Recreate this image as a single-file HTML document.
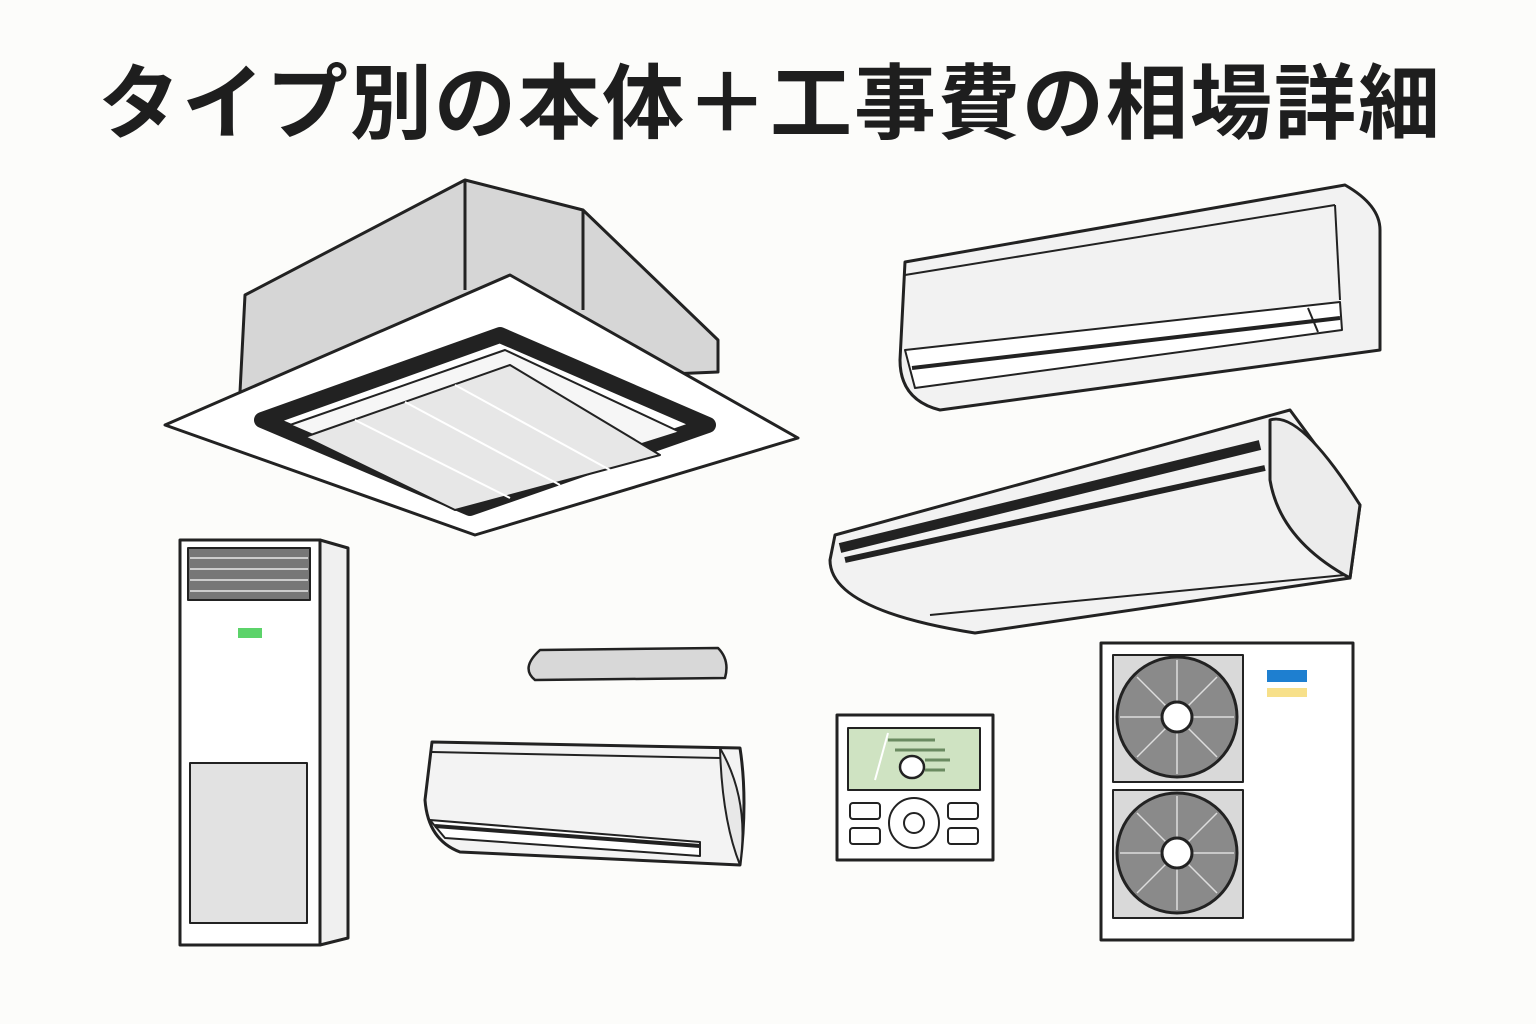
<!DOCTYPE html>
<html><head><meta charset="utf-8"><style>
html,body{margin:0;padding:0;background:#fcfcfa;}
svg{display:block}
</style></head><body>
<svg width="1536" height="1024" viewBox="0 0 1536 1024" xmlns="http://www.w3.org/2000/svg">
<rect width="1536" height="1024" fill="#fcfcfa"/>
<text x="770" y="132" text-anchor="middle" font-family="'Liberation Sans','Noto Sans CJK JP',sans-serif" font-weight="bold" font-size="82" fill="#1e1e1e" letter-spacing="2">タイプ別の本体＋工事費の相場詳細</text>

<g stroke="#222" stroke-width="3" stroke-linejoin="round">
<!-- cassette -->
<polygon points="245,295 465,180 583,210 718,340 718,372 240,392" fill="#d6d6d6"/>
<line x1="465" y1="180" x2="465" y2="290"/>
<line x1="583" y1="210" x2="583" y2="310"/>
<polygon points="165,425 510,275 798,438 475,535" fill="#fff"/>
<polygon points="262,420 500,335 708,425 470,508" fill="#fff" stroke="#222" stroke-width="16"/>
<polygon points="290,425 505,350 680,432 465,500" fill="#f6f6f6" stroke-width="2"/>
<polygon points="305,437 510,365 660,455 455,510" fill="#e7e7e7" stroke-width="2"/>
<g stroke="#fff" stroke-width="2"><line x1="355" y1="420" x2="510" y2="498"/><line x1="405" y1="402" x2="560" y2="485"/><line x1="455" y1="385" x2="610" y2="470"/></g>

<!-- wall unit top right -->
<path d="M905,262 L1345,185 Q1380,205 1380,230 L1380,350 L940,410 Q900,400 900,360 Z" fill="#f2f2f2"/>
<line x1="905" y1="275" x2="1335" y2="205" stroke-width="2"/>
<line x1="1335" y1="205" x2="1340" y2="300" stroke-width="2"/>
<path d="M905,350 L1340,302 L1342,330 L915,388 Z" fill="#fff" stroke-width="2"/>
<line x1="912" y1="368" x2="1340" y2="318" stroke-width="4"/>
<line x1="1308" y1="308" x2="1318" y2="332" stroke-width="2"/>

<!-- ceiling suspended -->
<path d="M835,535 L1290,410 L1360,505 L1350,578 L975,633 Q830,610 830,560 Z" fill="#f2f2f2"/>
<path d="M1270,420 Q1300,410 1360,505 L1350,578 Q1280,540 1270,480 Z" fill="#ececec"/>
<line x1="840" y1="548" x2="1260" y2="445" stroke-width="10"/>
<line x1="845" y1="560" x2="1265" y2="468" stroke-width="6"/>
<line x1="930" y1="615" x2="1345" y2="575" stroke-width="2"/>

<!-- floor standing -->
<rect x="180" y="540" width="140" height="405" fill="#fff"/>
<polygon points="320,540 348,548 348,938 320,945" fill="#f0f0f0"/>
<rect x="188" y="548" width="122" height="52" fill="#777" stroke-width="2"/>
<g stroke="#ccc" stroke-width="2"><line x1="190" y1="558" x2="308" y2="558"/><line x1="190" y1="569" x2="308" y2="569"/><line x1="190" y1="580" x2="308" y2="580"/><line x1="190" y1="591" x2="308" y2="591"/></g>
<rect x="238" y="628" width="24" height="10" fill="#5cd36a" stroke="none"/>
<rect x="190" y="763" width="117" height="160" fill="#e2e2e2" stroke-width="2"/>

<!-- slim bar -->
<path d="M540,650 L718,648 Q730,660 725,678 L535,680 Q520,668 540,650 Z" fill="#d8d8d8" stroke-width="2.5"/>

<!-- small wall unit -->
<path d="M432,742 L740,748 Q748,800 740,865 L460,852 Q428,840 425,800 Z" fill="#f3f3f3"/>
<path d="M720,748 Q750,800 740,865 Q722,820 720,748 Z" fill="#e8e8e8" stroke-width="2"/>
<line x1="432" y1="752" x2="720" y2="758" stroke-width="2"/>
<path d="M430,820 L700,842 L700,856 L445,838 Z" fill="#fff" stroke-width="2"/>
<line x1="435" y1="826" x2="700" y2="846" stroke-width="4"/>

<!-- remote -->
<rect x="837" y="715" width="156" height="145" fill="#fff"/>
<rect x="848" y="728" width="132" height="62" fill="#cfe3c2" stroke-width="2"/>
<ellipse cx="912" cy="767" rx="12" ry="11" fill="#fff" stroke-width="2.5"/>
<g stroke="#6a8a60" stroke-width="3"><line x1="888" y1="740" x2="935" y2="740"/><line x1="895" y1="750" x2="945" y2="750"/><line x1="925" y1="760" x2="950" y2="760"/><line x1="925" y1="770" x2="945" y2="770"/></g>
<line x1="875" y1="780" x2="888" y2="733" stroke="#fff" stroke-width="2"/>
<circle cx="914" cy="823" r="25" fill="#fff" stroke-width="2"/>
<circle cx="914" cy="823" r="10" fill="#fff" stroke-width="2"/>
<g fill="#fff" stroke-width="2"><rect x="850" y="803" width="30" height="16" rx="3"/><rect x="850" y="828" width="30" height="16" rx="3"/><rect x="948" y="803" width="30" height="16" rx="3"/><rect x="948" y="828" width="30" height="16" rx="3"/></g>

<!-- outdoor unit -->
<rect x="1101" y="643" width="252" height="297" fill="#fff"/>
<rect x="1113" y="655" width="130" height="127" fill="#d9d9d9" stroke-width="2"/>
<rect x="1113" y="790" width="130" height="128" fill="#d9d9d9" stroke-width="2"/>
<circle cx="1177" cy="717" r="60" fill="#8a8a8a"/>
<circle cx="1177" cy="853" r="60" fill="#8a8a8a"/>
<g stroke="#ddd" stroke-width="1.5">
<line x1="1177" y1="660" x2="1177" y2="774"/><line x1="1120" y1="717" x2="1234" y2="717"/><line x1="1137" y1="677" x2="1217" y2="757"/><line x1="1217" y1="677" x2="1137" y2="757"/>
<line x1="1177" y1="796" x2="1177" y2="910"/><line x1="1120" y1="853" x2="1234" y2="853"/><line x1="1137" y1="813" x2="1217" y2="893"/><line x1="1217" y1="813" x2="1137" y2="893"/>
</g>
<circle cx="1177" cy="717" r="15" fill="#fff"/>
<circle cx="1177" cy="853" r="15" fill="#fff"/>
<rect x="1267" y="670" width="40" height="12" fill="#1e7fd0" stroke="none"/>
<rect x="1267" y="688" width="40" height="9" fill="#f7e08a" stroke="none"/>
</g>
</svg>
</body></html>
